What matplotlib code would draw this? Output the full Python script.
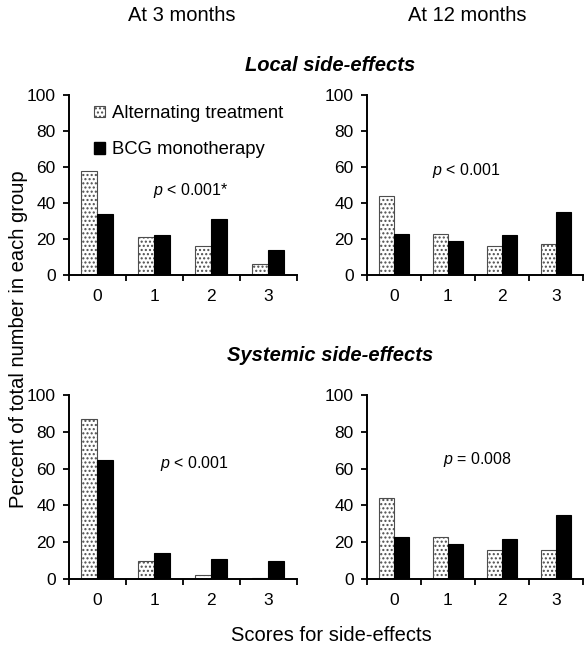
import numpy as np
import matplotlib
matplotlib.use("Agg")
import matplotlib.pyplot as plt
from matplotlib.patches import Patch

plt.rcParams['font.family'] = ['Liberation Sans', 'DejaVu Sans']
plt.rcParams['mathtext.fontset'] = 'custom'
plt.rcParams['mathtext.rm'] = 'Liberation Sans'
plt.rcParams['mathtext.it'] = 'Liberation Sans:italic'
plt.rcParams['hatch.linewidth'] = 1.0

# scores on the x axis
scores = [0, 1, 2, 3]
score_labels = ["0", "1", "2", "3"]
yticks = [0, 20, 40, 60, 80, 100]

# percent of patients
local_3m_alt = [58, 21, 16, 6]
local_3m_bcg = [34, 22, 31, 14]
local_12m_alt = [44, 23, 16, 17]
local_12m_bcg = [23, 19, 22, 35]
syst_3m_alt = [87, 10, 2, 0.5]
syst_3m_bcg = [65, 14, 11, 10]
syst_12m_alt = [44, 23, 16, 16]
syst_12m_bcg = [23, 19, 22, 35]

p_texts = ["$p$ < 0.001*", "$p$ < 0.001", "$p$ < 0.001", "$p$ = 0.008"]
p_pos = [(1.64, 47), (1.35, 58), (1.71, 63), (1.55, 65)]

series_names = ["Alternating treatment", "BCG monotherapy"]

fig = plt.figure(figsize=(5.84, 6.54), dpi=100, facecolor="w")

# axes boxes in figure fractions
boxes = [
    [0.118, 0.5795, 0.390, 0.275],
    [0.628, 0.5795, 0.370, 0.275],
    [0.118, 0.1147, 0.390, 0.281],
    [0.628, 0.1147, 0.370, 0.281],
]
panels = [
    (local_3m_alt, local_3m_bcg),
    (local_12m_alt, local_12m_bcg),
    (syst_3m_alt, syst_3m_bcg),
    (syst_12m_alt, syst_12m_bcg),
]

w = 0.28
x = np.array(scores)
axes = []
for k, (box, (alt, bcg)) in enumerate(zip(boxes, panels)):
    ax = fig.add_axes(box)
    axes.append(ax)
    ax.bar(x - w / 2, alt, width=w, facecolor="white", edgecolor="0.3",
           hatch="....", linewidth=0.8)
    ax.bar(x + w / 2, bcg, width=w, facecolor="black", edgecolor="black",
           linewidth=0.8)
    ax.set_xlim(-0.5, 3.5)
    ax.set_ylim(0, 100)
    ax.set_yticks(yticks)
    ax.set_xticks(scores)
    ax.set_xticklabels(score_labels)
    ax.set_xticks(np.arange(-0.5, 4.0, 1.0), minor=True)
    for s in ["top", "right"]:
        ax.spines[s].set_visible(False)
    for s in ["left", "bottom"]:
        ax.spines[s].set_linewidth(1.4)
    ax.tick_params(axis="y", direction="out", length=4.5, width=1.3,
                   labelsize=12.5, pad=5)
    ax.tick_params(axis="x", which="major", length=0, labelsize=12.5, pad=10)
    ax.tick_params(axis="x", which="minor", direction="out", length=4.5,
                   width=1.3)
    ax.text(p_pos[k][0], p_pos[k][1], p_texts[k], fontsize=11.5,
            ha="center", va="center")

handles = [Patch(facecolor="white", edgecolor="0.3", hatch="....",
                 linewidth=0.8),
           Patch(facecolor="black", edgecolor="black")]
axes[0].legend(handles, series_names, loc="upper left",
               bbox_to_anchor=(0.11, 0.945), frameon=False, fontsize=13.3,
               handlelength=0.6, handleheight=0.6, handletextpad=0.4,
               labelspacing=1.05, borderaxespad=0, borderpad=0)

fig.text(0.312, 0.977, "At 3 months", fontsize=14.5, ha="center", va="center")
fig.text(0.800, 0.977, "At 12 months", fontsize=14.5, ha="center", va="center")
fig.text(0.565, 0.9006, "Local side-effects", fontsize=14.5,
         fontweight="bold", fontstyle="italic", ha="center", va="center")
fig.text(0.565, 0.456, "Systemic side-effects", fontsize=14.5,
         fontweight="bold", fontstyle="italic", ha="center", va="center")
fig.text(0.031, 0.482, "Percent of total number in each group", fontsize=14.5,
         rotation=90, ha="center", va="center")
fig.text(0.568, 0.029, "Scores for side-effects", fontsize=14.5,
         ha="center", va="center")

fig.savefig("out.png", dpi=100, facecolor="w")
